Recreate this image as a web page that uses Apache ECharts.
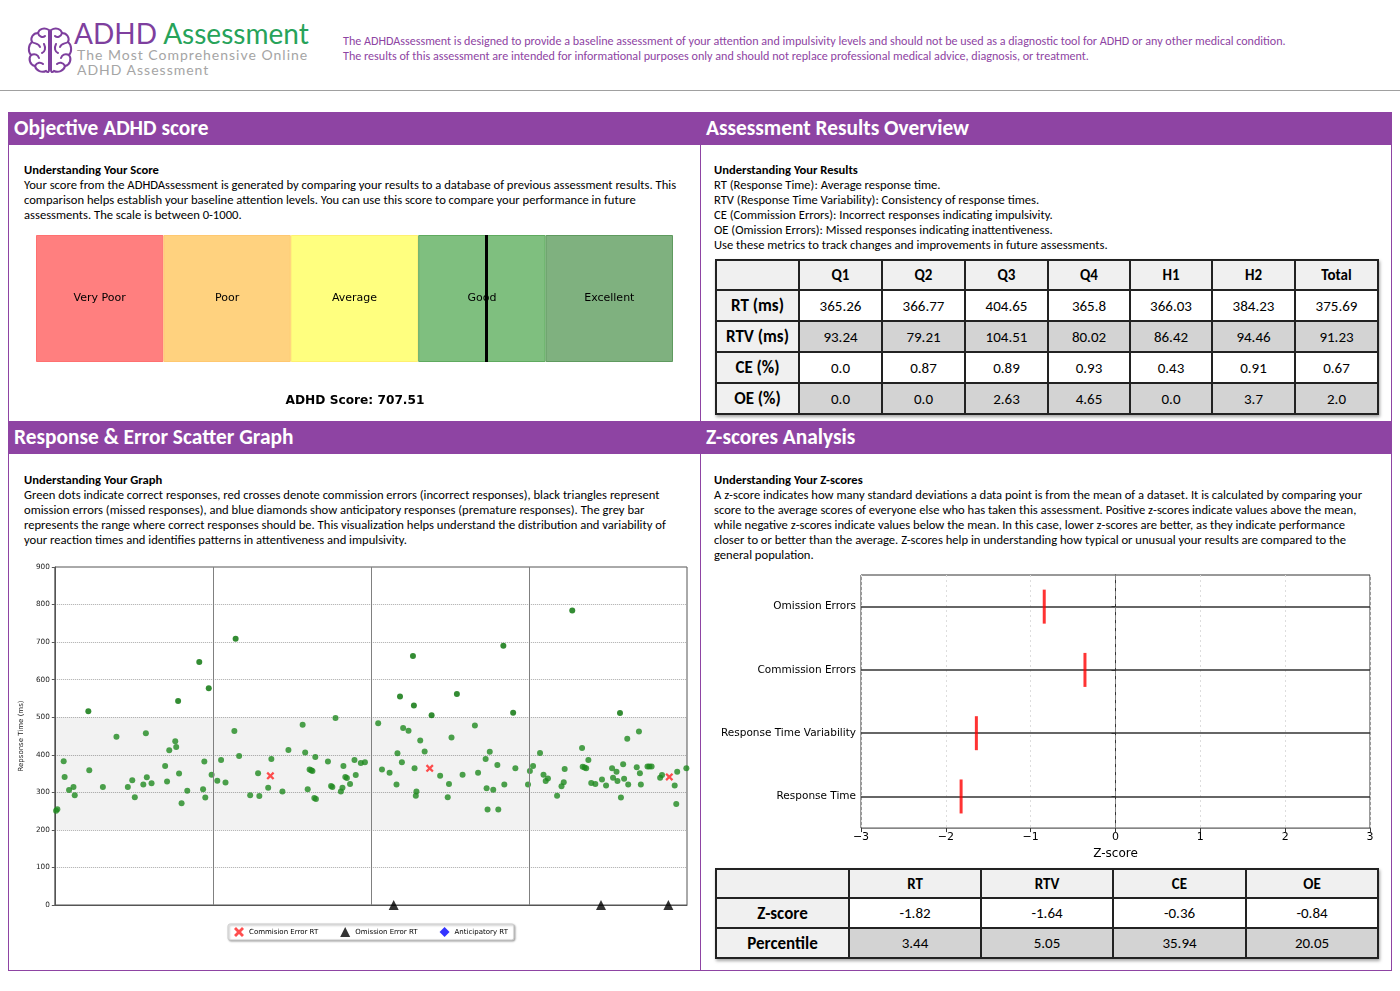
<!DOCTYPE html>
<html>
<head>
<meta charset="utf-8">
<title>ADHD Assessment</title>
<script src="https://cdn.jsdelivr.net/npm/echarts@6/dist/echarts.min.js"></script>
<style>
  html, body { margin: 0; padding: 0; background: #fff; }
  #page { position: relative; width: 1400px; height: 991px; overflow: hidden;
          font-family: Carlito, 'Liberation Sans Narrow', 'DejaVu Sans Condensed', sans-serif; color: #000; }
  .bar { position: absolute; left: 8px; width: 1384px; height: 33px; background: #8e44a3; }
  .ttl { position: absolute; color: #fff; font-weight: bold; font-size: 21.4px; line-height: 33px; white-space: nowrap; }
  .txt { position: absolute; font-size: 12.6px; line-height: 15px; white-space: nowrap; }
  table.res { position: absolute; border-collapse: collapse; box-shadow: 1px 2px 3px rgba(0,0,0,.35); table-layout: fixed; }
  table.res td { border: 2px solid #222; text-align: center; padding: 0; font-size: 15px; }
  table.res td.h { background: #f0f0f0; font-weight: bold; }
  table.res td.rl { font-size: 17px; }
</style>
</head>
<body>
<div id="page">
  <!-- header -->
  <svg style="position:absolute;left:27px;top:26px" width="46" height="48" viewBox="0 0 46 48" fill="none" stroke="#7e3f9e" stroke-width="2" stroke-linecap="round">
    <path d="M22,4 C17,1 12,3 11,7 C6,7 3,12 5,16 C1,19 1,26 4,29 C1,33 3,39 8,40 C9,45 15,47 19,45 C21,47 22,46 22,44 Z"/>
    <path d="M24,4 C29,1 34,3 35,7 C40,7 43,12 41,16 C45,19 45,26 42,29 C45,33 43,39 38,40 C37,45 31,47 27,45 C25,47 24,46 24,44 Z"/>
    <path d="M11,7 C12,11 16,12 18,10 M5,16 C8,18 12,17 13,21 M4,29 C8,27 11,29 12,32 M8,40 C10,36 14,36 16,38 M17,18 C19,22 18,26 15,27"/>
    <path d="M35,7 C34,11 30,12 28,10 M41,16 C38,18 34,17 33,21 M42,29 C38,27 35,29 34,32 M38,40 C36,36 32,36 30,38 M29,18 C27,22 28,26 31,27"/>
  </svg>
  <div style="position:absolute;left:74px;top:14px;font-family:Lato,'Open Sans',sans-serif;font-size:28px;line-height:38px;white-space:nowrap;">
    <span style="color:#7e3f9e">ADHD</span> <span style="color:#27a35a">Assessment</span></div>
  <div style="position:absolute;left:77px;top:47px;font-family:Lato,'Open Sans',sans-serif;font-size:14px;line-height:15px;letter-spacing:1px;color:#a5a5a5;white-space:nowrap;">
    The Most Comprehensive Online<br>ADHD Assessment</div>
  <div style="position:absolute;left:343px;top:34px;font-size:12.1px;line-height:14.5px;color:#8e44a3;white-space:nowrap;">
    The ADHDAssessment is designed to provide a baseline assessment of your attention and impulsivity levels and should not be used as a diagnostic tool for ADHD or any other medical condition.<br>
    The results of this assessment are intended for informational purposes only and should not replace professional medical advice, diagnosis, or treatment.</div>
  <div style="position:absolute;left:0;top:90px;width:1400px;height:1px;background:#a0a0a0;"></div>

  <!-- frame -->
  <div style="position:absolute;left:8px;top:112px;width:1384px;height:859px;border:1px solid #8e44a3;box-sizing:border-box;"></div>
  <div style="position:absolute;left:700px;top:145px;width:1px;height:826px;background:#8e44a3;"></div>
  <div class="bar" style="top:112px"></div>
  <div class="bar" style="top:421px"></div>
  <div class="ttl" style="left:14px;top:112px">Objective ADHD score</div>
  <div class="ttl" style="left:706px;top:112px">Assessment Results Overview</div>
  <div class="ttl" style="left:14px;top:421px">Response &amp; Error Scatter Graph</div>
  <div class="ttl" style="left:706px;top:421px">Z-scores Analysis</div>

  <div class="txt" style="left:24px;top:162px"><b>Understanding Your Score</b><br>
    Your score from the ADHDAssessment is generated by comparing your results to a database of previous assessment results. This<br>
    comparison helps establish your baseline attention levels. You can use this score to compare your performance in future<br>
    assessments. The scale is between 0-1000.</div>
  <div class="txt" style="left:714px;top:162px"><b>Understanding Your Results</b><br>
    RT (Response Time): Average response time.<br>
    RTV (Response Time Variability): Consistency of response times.<br>
    CE (Commission Errors): Incorrect responses indicating impulsivity.<br>
    OE (Omission Errors): Missed responses indicating inattentiveness.<br>
    Use these metrics to track changes and improvements in future assessments.</div>
  <div class="txt" style="left:24px;top:472px"><b>Understanding Your Graph</b><br>
    Green dots indicate correct responses, red crosses denote commission errors (incorrect responses), black triangles represent<br>
    omission errors (missed responses), and blue diamonds show anticipatory responses (premature responses). The grey bar<br>
    represents the range where correct responses should be. This visualization helps understand the distribution and variability of<br>
    your reaction times and identifies patterns in attentiveness and impulsivity.</div>
  <div class="txt" style="left:714px;top:472px"><b>Understanding Your Z-scores</b><br>
    A z-score indicates how many standard deviations a data point is from the mean of a dataset. It is calculated by comparing your<br>
    score to the average scores of everyone else who has taken this assessment. Positive z-scores indicate values above the mean,<br>
    while negative z-scores indicate values below the mean. In this case, lower z-scores are better, as they indicate performance<br>
    closer to or better than the average. Z-scores help in understanding how typical or unusual your results are compared to the<br>
    general population.</div>

  <div id="scoreBar" style="position:absolute;left:30px;top:230px;width:650px;height:185px;"></div>
  <div id="scatter" style="position:absolute;left:10px;top:560px;width:690px;height:390px;"></div>
  <div id="zChart" style="position:absolute;left:705px;top:565px;width:690px;height:300px;"></div>
  <table class="res" id="resultsTable" style="left:715px;top:259px;width:662px;"></table>
  <table class="res" id="zTable" style="left:715px;top:868px;width:662px;"></table>
</div>

<script>
// ---- score gauge ----
const scoreBands = ['Very Poor', 'Poor', 'Average', 'Good', 'Excellent'];
const bandEdges = [0, 200, 400, 600, 800, 1000];
const adhdScore = 707.51;
const bandColors = ['#ff7f7f', '#ffd27f', '#ffff7f', '#7fbf7f', '#7fb17f'];
const bandBorders = ['#ff7070', '#ffc870', '#fff070', '#5faa5f', '#5f9a5f'];

// ---- results overview table ----
const periods = ['Q1', 'Q2', 'Q3', 'Q4', 'H1', 'H2', 'Total'];
const rtMs = [365.26, 366.77, 404.65, 365.8, 366.03, 384.23, 375.69];
const rtvMs = [93.24, 79.21, 104.51, 80.02, 86.42, 94.46, 91.23];
const cePct = [0.0, 0.87, 0.89, 0.93, 0.43, 0.91, 0.67];
const oePct = [0.0, 0.0, 2.63, 4.65, 0.0, 3.7, 2.0];

// ---- scatter: [trial position, response time ms] ----
const correctResponses = [
  [0.4,251],[0.8,255],[2.8,383],[3.1,341],[4.5,306],[5.9,314],[6.3,292],[10.6,516],[10.9,359],[15.2,314],
  [19.5,448],[23.1,314],[24.5,332],[25.3,287],[28.0,321],[28.8,457],[29.1,340],[30.6,324],[34.9,370],[35.5,329],
  [36.2,412],[38.1,436],[38.4,421],[39.0,543],[39.3,350],[40.1,271],[41.9,304],[45.7,647],[46.9,308],[47.3,382],
  [47.6,286],[48.7,577],[49.6,347],[51.4,331],[52.6,386],[54.0,326],[56.8,463],[57.2,709],[58.3,397],[61.8,292],
  [64.3,351],[64.7,290],[67.5,312],[68.5,389],[72.0,302],[73.9,413],[78.4,480],[79.2,406],[80.0,308],[80.6,361],
  [81.1,359],[81.5,357],[82.1,285],[82.4,394],[82.6,282],[86.4,382],[87.4,317],[87.8,314],[88.8,498],[90.5,302],
  [91.0,312],[91.3,370],[91.9,341],[92.4,338],[93.4,322],[94.8,386],[95.2,346],[96.8,378],[98.1,380],[102.3,484],
  [103.5,361],[105.9,352],[108.1,321],[108.4,404],[109.2,555],[109.8,380],[110.2,471],[111.9,464],[113.3,663],[113.6,531],
  [113.8,364],[114.2,291],[114.4,302],[115.6,438],[117.0,409],[119.2,505],[121.9,344],[124.3,287],[124.7,322],[125.5,446],
  [127.2,562],[129.0,347],[132.9,478],[133.9,352],[136.3,389],[136.6,311],[136.9,254],[137.6,408],[138.7,307],[140.0,373],
  [140.3,254],[141.9,690],[142.2,321],[145.0,512],[145.7,364],[149.7,321],[150.3,357],[151.3,370],[153.5,405],[154.6,347],
  [155.3,330],[156.0,337],[158.9,291],[160.3,316],[161.0,327],[161.3,362],[163.7,784],[166.8,418],[167.0,368],[167.6,366],
  [168.1,364],[168.8,386],[169.7,325],[171.0,322],[173.1,334],[174.4,318],[176.3,364],[176.6,339],[177.7,355],[178.0,330],
  [178.8,511],[179.1,286],[179.8,375],[180.1,336],[181.1,443],[181.4,321],[184.1,367],[184.8,462],[185.1,351],[185.4,321],
  [187.5,369],[188.1,369],[188.8,369],[191.5,339],[192.1,346],[196.1,318],[196.6,269],[196.9,355],[199.8,364]
];
const commissionErrors = [[68.2,344],[118.6,364],[194.4,341]];
const omissionErrors = [[107.2,0],[172.8,0],[194.1,0]];
const anticipatoryResponses = [];
const quarterBounds = [50, 100, 150];
const targetRange = [200, 500];
const rtTicks = [0, 900, 100]; // min, max, step

// ---- z-scores ----
const zMetrics = ['RT', 'RTV', 'CE', 'OE'];
const zLabels = ['Response Time', 'Response Time Variability', 'Commission Errors', 'Omission Errors'];
const zScores = [-1.82, -1.64, -0.36, -0.84];
const percentiles = [3.44, 5.05, 35.94, 20.05];

const fmt = v => Number.isInteger(v) ? v.toFixed(1) : String(v);
const mpl = 'DejaVu Sans';

// score gauge
const scoreChart = echarts.init(document.getElementById('scoreBar'));
scoreChart.setOption({
  animation: false,
  title: { text: 'ADHD Score: ' + adhdScore, left: 'center', top: 160,
           textStyle: { fontFamily: mpl, fontSize: 12.2, fontWeight: 'bold', color: '#000' } },
  grid: { left: 6, top: 5, width: 637, height: 127 },
  xAxis: { type: 'value', min: bandEdges[0], max: bandEdges[bandEdges.length - 1], show: false },
  yAxis: { type: 'category', data: ['score'], show: false },
  series: scoreBands.map((name, i) => ({
    name, type: 'bar', stack: 'bands', barWidth: '100%',
    data: [bandEdges[i + 1] - bandEdges[i]],
    itemStyle: { color: bandColors[i], borderColor: bandBorders[i], borderWidth: 1 },
    label: { show: true, position: 'inside', formatter: name, fontFamily: mpl, fontSize: 11, color: '#000' },
    markLine: i === scoreBands.length - 1 ? {
      silent: true, symbol: 'none', label: { show: false },
      lineStyle: { color: '#000', width: 3, type: 'solid' },
      data: [{ xAxis: adhdScore }]
    } : undefined
  }))
});

// scatter
const xMark = 'path://M2,0 L5,3 L8,0 L10,2 L7,5 L10,8 L8,10 L5,7 L2,10 L0,8 L3,5 L0,2 Z';
const scatter = echarts.init(document.getElementById('scatter'));
scatter.setOption({
  animation: false,
  grid: { left: 40, right: 13, top: 7, bottom: 45, show: true, borderColor: '#555', borderWidth: 1 },
  legend: {
    data: ['Commision Error RT', 'Omission Error RT', 'Anticipatory RT'],
    left: 218, top: 364, itemWidth: 10, itemHeight: 10, itemGap: 22,
    padding: [3, 6], backgroundColor: '#fff', borderColor: '#ccc', borderWidth: 1, borderRadius: 2,
    shadowBlur: 2, shadowColor: 'rgba(0,0,0,0.35)', shadowOffsetX: 1, shadowOffsetY: 1,
    textStyle: { fontFamily: mpl, fontSize: 7, color: '#000' }
  },
  xAxis: { type: 'value', min: 0, max: 200, axisLabel: { show: false }, axisTick: { show: false },
           splitLine: { show: false }, axisLine: { lineStyle: { color: '#555' } } },
  yAxis: { type: 'value', min: rtTicks[0], max: rtTicks[1], interval: rtTicks[2],
           name: 'Repsonse Time (ms)', nameLocation: 'middle', nameGap: 23,
           nameTextStyle: { fontFamily: mpl, fontSize: 7, color: '#222' },
           axisLabel: { fontFamily: mpl, fontSize: 7.3, color: '#222', margin: 5 },
           axisTick: { show: true, length: 3, lineStyle: { color: '#555' } },
           axisLine: { show: true, lineStyle: { color: '#555' } },
           splitLine: { show: true, lineStyle: { color: '#aaa', type: 'dotted' } } },
  series: [
    { name: 'Correct RT', type: 'scatter', data: correctResponses, symbolSize: 6, z: 3,
      itemStyle: { color: p => p.value[1] > targetRange[1] ? '#006f00' : '#1f8a1f' },
      markArea: { silent: true, itemStyle: { color: 'rgba(0,0,0,0.05)' },
                  data: [[{ yAxis: targetRange[0] }, { yAxis: targetRange[1] }]] },
      markLine: { silent: true, symbol: 'none', label: { show: false },
                  lineStyle: { color: '#808080', type: 'solid', width: 1 },
                  data: quarterBounds.map(q => ({ xAxis: q })) } },
    { name: 'Commision Error RT', type: 'scatter', data: commissionErrors, symbol: xMark, symbolSize: 8, z: 4,
      itemStyle: { color: '#f22' } },
    { name: 'Omission Error RT', type: 'scatter', data: omissionErrors, symbol: 'triangle', symbolSize: 10, z: 4,
      itemStyle: { color: '#000' } },
    { name: 'Anticipatory RT', type: 'scatter', data: anticipatoryResponses, symbol: 'diamond', symbolSize: 8,
      itemStyle: { color: '#00f' } }
  ]
});

// z-score chart
const zChart = echarts.init(document.getElementById('zChart'));
zChart.setOption({
  animation: false,
  grid: { left: 156, right: 25, top: 10, bottom: 35, show: true, borderColor: '#333', borderWidth: 1 },
  xAxis: { type: 'value', min: -3, max: 3, interval: 1, name: 'Z-score', nameLocation: 'middle', nameGap: 15,
           nameTextStyle: { fontFamily: mpl, fontSize: 12, color: '#000' },
           axisLabel: { fontFamily: mpl, fontSize: 11, color: '#000', margin: 4,
                        formatter: v => v < 0 ? '\u2212' + (-v) : String(v) },
           axisTick: { show: true, length: 4, lineStyle: { color: '#333' } },
           axisLine: { lineStyle: { color: '#333' } },
           splitLine: { show: true, lineStyle: { color: '#ddd', type: [2, 3] } } },
  yAxis: { type: 'category', data: zLabels, boundaryGap: true,
           axisLabel: { fontFamily: mpl, fontSize: 10.5, color: '#000', margin: 5 },
           axisTick: { show: true, alignWithLabel: true, length: 4, lineStyle: { color: '#333' } },
           axisLine: { lineStyle: { color: '#333' } }, splitLine: { show: false } },
  series: [
    { type: 'scatter', data: [], z: 1,
      markLine: { silent: true, symbol: 'none', label: { show: false },
                  lineStyle: { color: '#333', width: 1.5, type: 'solid' },
                  data: zLabels.map(c => ({ yAxis: c })) } },
    { type: 'scatter', data: [], z: 1,
      markLine: { silent: true, symbol: 'none', label: { show: false },
                  lineStyle: { color: '#888', width: 1, type: [5, 3] },
                  data: [{ xAxis: 0 }] } },
    { type: 'scatter', z: 5, symbol: 'rect', symbolSize: [3, 34], itemStyle: { color: '#ff0000' },
      data: zScores.map((v, i) => [v, zLabels[i]]) }
  ]
});

// tables
function buildTable(id, head, rows, colW, rowH) {
  const t = document.getElementById(id);
  let html = '<colgroup>' + colW.map(w => '<col style="width:' + w + 'px">').join('') + '</colgroup>';
  html += '<tr style="height:' + rowH[0] + 'px"><td class="h"></td>' +
          head.map(h => '<td class="h">' + h + '</td>').join('') + '</tr>';
  rows.forEach((r, i) => {
    const bg = i % 2 ? '#d3d3d3' : '#fff';
    html += '<tr style="height:' + rowH[i + 1] + 'px"><td class="h rl">' + r[0] + '</td>' +
            r[1].map(v => '<td style="background:' + bg + '">' + fmt(v) + '</td>').join('') + '</tr>';
  });
  t.innerHTML = html;
}
buildTable('resultsTable', periods,
  [['RT (ms)', rtMs], ['RTV (ms)', rtvMs], ['CE (%)', cePct], ['OE (%)', oePct]],
  [83, 83, 83, 83, 82, 82, 83, 83], [30, 31, 31, 31, 31]);
buildTable('zTable', zMetrics,
  [['Z-score', zScores], ['Percentile', percentiles]],
  [133, 132, 132, 133, 132], [29, 30, 30]);
</script>
</body>
</html>
